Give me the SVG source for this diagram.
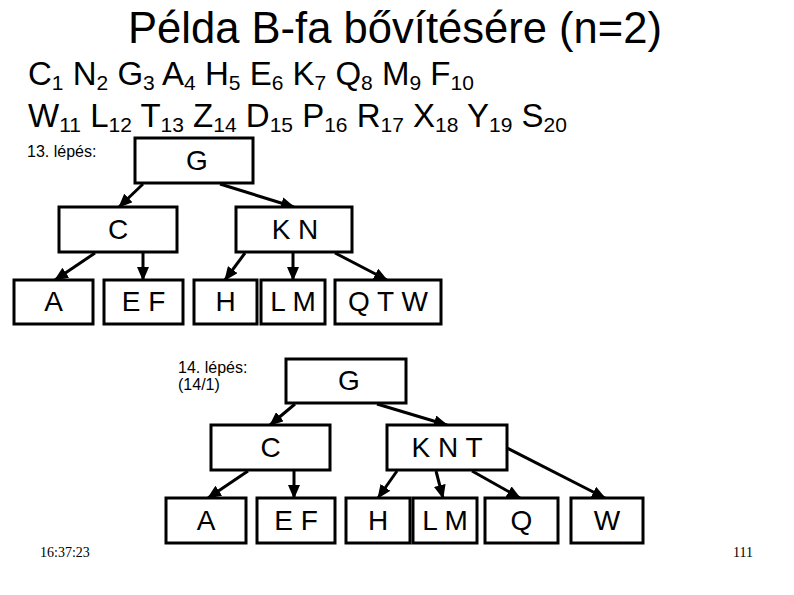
<svg xmlns="http://www.w3.org/2000/svg" width="794" height="595" viewBox="0 0 794 595">
<style>
.bx{fill:#fff;stroke:#000;stroke-width:3}
.nt{font-family:"Liberation Sans",Arial,sans-serif;font-size:28px;text-anchor:middle;fill:#000}
.ln{font-family:"Liberation Sans",Arial,sans-serif;font-size:33px;fill:#000}
.sb{font-size:21px}
.lb{font-family:"Liberation Sans",Arial,sans-serif;font-size:16px;fill:#000}
.ft{font-family:"Liberation Serif","Times New Roman",serif;font-size:14px;fill:#000}
.cn{stroke:#000;stroke-width:3;fill:none;marker-end:url(#ah)}
</style>
<defs>
<marker id="ah" markerUnits="userSpaceOnUse" markerWidth="14" markerHeight="12" viewBox="0 0 14 12" refX="13" refY="6" orient="auto">
<path d="M0,0 L14,6 L0,12 Z" fill="#000"/>
</marker>
</defs>
<rect width="794" height="595" fill="#fff"/>
<text x="128" y="43" font-family="Liberation Sans, Arial, sans-serif" font-size="45" textLength="534" lengthAdjust="spacingAndGlyphs">Példa B-fa bővítésére (n=2)</text>
<text class="ln" x="28" y="85">C<tspan class="sb" dy="5">1</tspan><tspan dy="-5"> N</tspan><tspan class="sb" dy="5">2</tspan><tspan dy="-5"> G</tspan><tspan class="sb" dy="5">3</tspan><tspan dy="-5"> A</tspan><tspan class="sb" dy="5">4</tspan><tspan dy="-5"> H</tspan><tspan class="sb" dy="5">5</tspan><tspan dy="-5"> E</tspan><tspan class="sb" dy="5">6</tspan><tspan dy="-5"> K</tspan><tspan class="sb" dy="5">7</tspan><tspan dy="-5"> Q</tspan><tspan class="sb" dy="5">8</tspan><tspan dy="-5"> M</tspan><tspan class="sb" dy="5">9</tspan><tspan dy="-5"> F</tspan><tspan class="sb" dy="5">10</tspan></text>
<text class="ln" x="28" y="127">W<tspan class="sb" dy="5">11</tspan><tspan dy="-5"> L</tspan><tspan class="sb" dy="5">12</tspan><tspan dy="-5"> T</tspan><tspan class="sb" dy="5">13</tspan><tspan dy="-5"> Z</tspan><tspan class="sb" dy="5">14</tspan><tspan dy="-5"> D</tspan><tspan class="sb" dy="5">15</tspan><tspan dy="-5"> P</tspan><tspan class="sb" dy="5">16</tspan><tspan dy="-5"> R</tspan><tspan class="sb" dy="5">17</tspan><tspan dy="-5"> X</tspan><tspan class="sb" dy="5">18</tspan><tspan dy="-5"> Y</tspan><tspan class="sb" dy="5">19</tspan><tspan dy="-5"> S</tspan><tspan class="sb" dy="5">20</tspan></text>
<text class="lb" x="27" y="157" font-size="19">13. lépés:</text>
<text class="lb" x="178" y="373">14. lépés:</text>
<text class="lb" x="178" y="390">(14/1)</text>
<g id="connectors">
<line class="cn" x1="143" y1="184" x2="119" y2="207"/>
<line class="cn" x1="220" y1="184" x2="294" y2="207"/>
<line class="cn" x1="95" y1="253" x2="55" y2="280"/>
<line class="cn" x1="143" y1="253" x2="143" y2="280"/>
<line class="cn" x1="245" y1="253" x2="225" y2="280"/>
<line class="cn" x1="293" y1="253" x2="293" y2="280"/>
<line class="cn" x1="335" y1="253" x2="387" y2="280"/>
<line class="cn" x1="295" y1="404" x2="270" y2="425"/>
<line class="cn" x1="377" y1="404" x2="447" y2="425"/>
<line class="cn" x1="248" y1="471" x2="208" y2="498"/>
<line class="cn" x1="294" y1="471" x2="294" y2="498"/>
<line class="cn" x1="397" y1="471" x2="378" y2="498"/>
<line class="cn" x1="436" y1="471" x2="443" y2="498"/>
<line class="cn" x1="472" y1="471" x2="520" y2="498"/>
<line class="cn" x1="507" y1="448" x2="605" y2="498"/>
</g>
<g id="t1-G"><rect class="bx" x="135" y="138" width="118" height="45"/><text class="nt" x="197" y="170">G</text></g>
<g id="t1-C"><rect class="bx" x="59" y="207" width="118" height="45"/><text class="nt" x="118" y="239">C</text></g>
<g id="t1-KN"><rect class="bx" x="236" y="207" width="116" height="45"/><text class="nt" x="295" y="239">K N</text></g>
<g id="t1-A"><rect class="bx" x="14" y="280" width="79" height="44"/><text class="nt" x="53.5" y="311">A</text></g>
<g id="t1-EF"><rect class="bx" x="104" y="280" width="79" height="44"/><text class="nt" x="143.5" y="311">E F</text></g>
<g id="t1-H"><rect class="bx" x="194" y="280" width="63" height="44"/><text class="nt" x="225.5" y="311">H</text></g>
<g id="t1-LM"><rect class="bx" x="261" y="280" width="64" height="44"/><text class="nt" x="293" y="311">L M</text></g>
<g id="t1-QTW"><rect class="bx" x="335" y="280" width="106" height="44"/><text class="nt" x="388" y="311">Q T W</text></g>
<g id="t2-G"><rect class="bx" x="286" y="359" width="120" height="44"/><text class="nt" x="349" y="390">G</text></g>
<g id="t2-C"><rect class="bx" x="211" y="425" width="119" height="45"/><text class="nt" x="270.5" y="457">C</text></g>
<g id="t2-KNT"><rect class="bx" x="387" y="425" width="120" height="45"/><text class="nt" x="447" y="457">K N T</text></g>
<g id="t2-A"><rect class="bx" x="166" y="498" width="80" height="45"/><text class="nt" x="206" y="530">A</text></g>
<g id="t2-EF"><rect class="bx" x="257" y="498" width="78" height="45"/><text class="nt" x="296" y="530">E F</text></g>
<g id="t2-H"><rect class="bx" x="346" y="498" width="64" height="45"/><text class="nt" x="378" y="530">H</text></g>
<g id="t2-LM"><rect class="bx" x="413" y="498" width="64" height="45"/><text class="nt" x="445" y="530">L M</text></g>
<g id="t2-Q"><rect class="bx" x="485" y="498" width="73" height="45"/><text class="nt" x="521.5" y="530">Q</text></g>
<g id="t2-W"><rect class="bx" x="571" y="498" width="72" height="45"/><text class="nt" x="607" y="530">W</text></g>
<text class="ft" x="40" y="557">16:37:23</text>
<text class="ft" x="733" y="557">111</text>
</svg>
